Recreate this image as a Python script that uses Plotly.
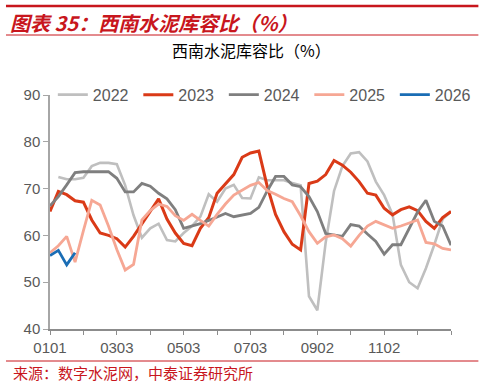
import plotly.graph_objects as go

# ---- data ----
tick_labels = ["0101", "", "0303", "", "0503", "", "0703", "", "0902", "", "1102", "", ""]

s2022 = [None, 72.5, 72.0, 72.0, 72.3, 74.8, 75.5, 75.5, 75.2, 70.7, 64.3, 59.5, 61.5, 62.5,
         59.0, 58.7, 60.5, 62.0, 64.0, 68.8, 67.2, 70.0, 70.8, 68.0, 67.9, 72.4, 71.8, 71.8,
         71.8, 71.2, 70.7, 47.0, 44.0, 58.5, 69.5, 74.8, 77.5, 77.8, 75.8, 71.5, 68.6, 64.5,
         53.7, 50.0, 48.7, 53.0, 58.0, 63.5, 65.1]
s2023 = [65.1, 69.4, 68.7, 67.4, 67.1, 63.3, 60.5, 60.0, 59.3, 57.5, 59.8, 62.5, 65.3, 67.8,
         63.5, 60.5, 58.3, 57.8, 61.5, 63.8, 69.0, 71.0, 73.0, 76.7, 77.6, 78.0, 70.5, 64.5,
         60.8, 58.1, 56.9, 71.1, 71.6, 73.0, 76.0, 75.0, 73.5, 71.5, 69.0, 68.6, 65.8, 64.4,
         65.5, 66.1, 65.3, 63.0, 61.5, 63.8, 65.1]
s2024 = [66.3, 68.3, 70.8, 73.4, 73.6, 73.6, 73.6, 73.6, 72.2, 69.3, 69.3, 71.1, 70.5, 69.0,
         67.8, 65.5, 61.5, 62.0, 62.5, 63.2, 63.9, 64.7, 64.0, 64.4, 64.7, 66.0, 69.5, 72.6,
         72.6, 70.8, 70.4, 68.3, 65.1, 60.4, 60.1, 59.8, 62.3, 62.0, 60.3, 58.7, 56.0, 58.0,
         58.0, 61.5, 65.0, 67.5, 63.0, 62.0, 57.9]
s2025 = [56.3, 57.8, 59.8, 54.3, 61.0, 67.5, 66.5, 62.0, 57.0, 52.6, 53.8, 63.3, 65.3, 66.7,
         66.2, 64.2, 63.2, 64.5, 63.2, 62.0, 64.5, 66.7, 68.6, 69.7, 70.7, 71.3, 69.6, 68.8,
         67.9, 67.2, 64.2, 60.8, 58.3, 59.7, 60.1, 59.3, 57.7, 60.0, 62.0, 63.0, 62.2, 61.5,
         62.0, 62.6, 63.3, 58.5, 58.2, 57.2, 56.9]
s2026 = [55.7, 56.8, 53.7, 56.3]

series = [
    ("2022", s2022, "#BFBFBF", 2.6),
    ("2023", s2023, "#DA3A17", 3.0),
    ("2024", s2024, "#7F7F7F", 2.8),
    ("2025", s2025, "#F6A794", 2.8),
    ("2026", s2026, "#1A6DB5", 2.8),
]

# ---- figure geometry (pixels) ----
W, H = 493, 384
L, R, T, B = 50, 33, 95, 55
pw, ph = W - L - R, H - T - B


def px(x):
    return (x - L) / pw


def py(y):
    return (H - B - y) / ph


fig = go.Figure()
for name, vals, color, width in series:
    fig.add_trace(go.Scatter(
        x=list(range(len(vals))), y=vals, name=name, mode="lines",
        line=dict(color=color, width=width), connectgaps=False,
    ))

num_font = "Liberation Sans, Arial, sans-serif"
cjk_font = "Noto Sans CJK SC, sans-serif"

fig.update_layout(
    width=W, height=H,
    margin=dict(l=L, r=R, t=T, b=B),
    paper_bgcolor="white", plot_bgcolor="white",
    showlegend=True,
    legend=dict(
        orientation="h", x=px(490.5), xanchor="right", y=1.001, yanchor="middle",
        font=dict(family=num_font, size=16, color="#595959"),
        entrywidth=40.5, entrywidthmode="pixels", bgcolor="rgba(0,0,0,0)",
        borderwidth=0, itemclick=False,
    ),
    xaxis=dict(
        range=[0, 48], showgrid=False, zeroline=False,
        tickmode="array", tickvals=list(range(0, 49, 4)), ticktext=tick_labels,
        ticks="outside", ticklen=4, tickwidth=1.3, tickcolor="#8C8C8C",
        showline=True, linecolor="#8C8C8C", linewidth=1.6,
        tickfont=dict(family=num_font, size=15, color="#595959"),
    ),
    yaxis=dict(
        range=[40, 90], showgrid=False, zeroline=False,
        tickmode="array", tickvals=[40, 50, 60, 70, 80, 90],
        ticks="outside", ticklen=5, tickwidth=1.3, tickcolor="#A6A6A6",
        showline=True, linecolor="#A6A6A6", linewidth=1.5,
        tickfont=dict(family=num_font, size=15, color="#595959"),
    ),
)

red = "#C8161D"
shape_common = dict(type="line", xref="paper", yref="paper")
fig.add_shape(x0=px(5), x1=px(488), y0=py(6), y1=py(6), line=dict(color=red, width=2.5), **shape_common)
fig.add_shape(x0=px(5), x1=px(488), y0=py(35), y1=py(35), line=dict(color=red, width=1), **shape_common)
fig.add_shape(x0=px(5), x1=px(488), y0=py(361), y1=py(361), line=dict(color=red, width=1), **shape_common)

fig.add_annotation(
    text="图表 35：西南水泥库容比（%）", xref="paper", yref="paper",
    x=px(7), y=py(22), xanchor="left", yanchor="middle", showarrow=False,
    font=dict(family=cjk_font, size=20, color=red, weight="bold", style="italic"),
)
fig.add_annotation(
    text="西南水泥库容比（%）", xref="paper", yref="paper",
    x=px(256), y=py(50), xanchor="center", yanchor="middle", showarrow=False,
    font=dict(family=cjk_font, size=16, color="#000000"),
)
fig.add_annotation(
    text="来源：数字水泥网，中泰证券研究所", xref="paper", yref="paper",
    x=px(10), y=py(372), xanchor="left", yanchor="middle", showarrow=False,
    font=dict(family=cjk_font, size=15, color=red),
)

fig.write_html(
    "out.html",
    config={"displayModeBar": False},
    post_script="document.body.style.margin='0px';document.body.style.padding='0px';",
)
